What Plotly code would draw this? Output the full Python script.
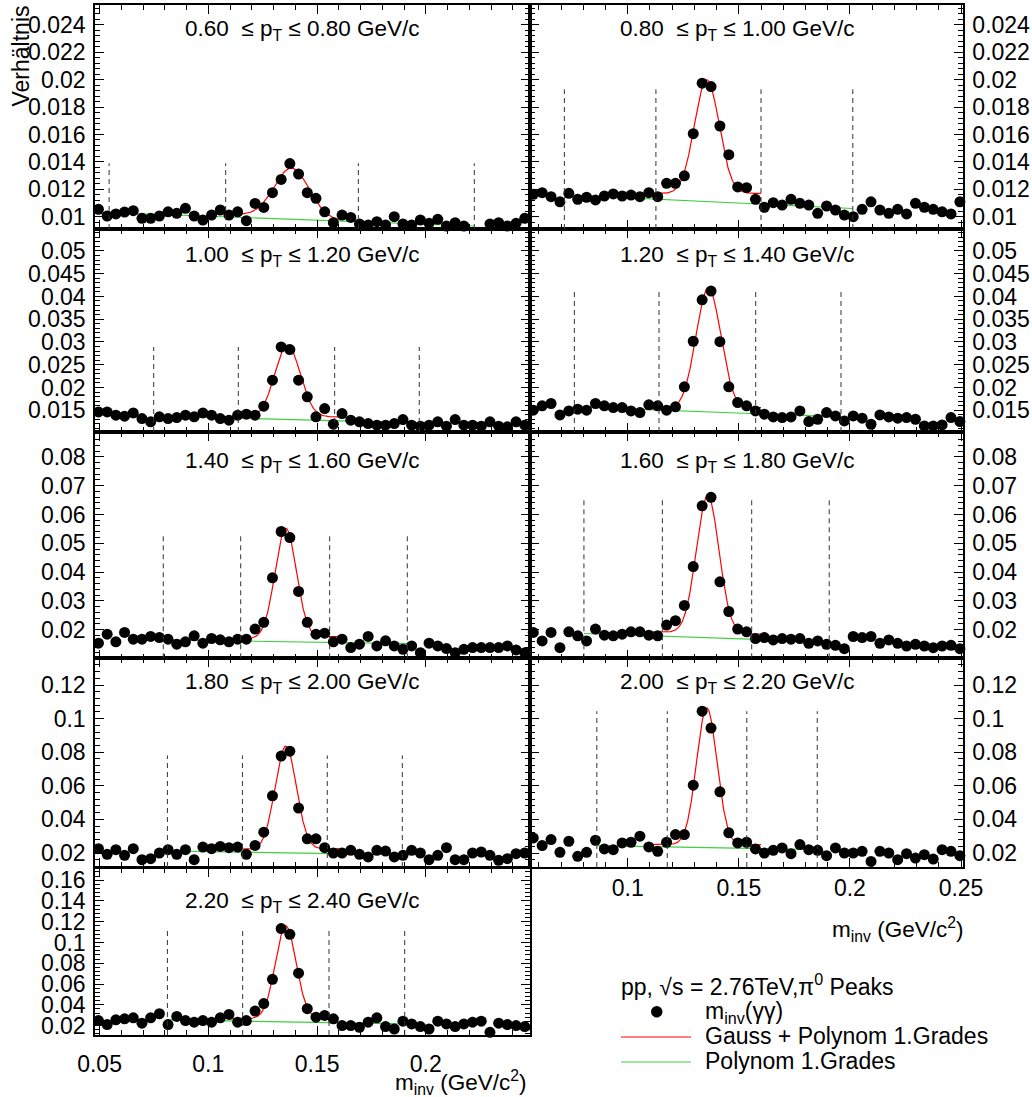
import numpy as np
import plotly.graph_objects as go

W, H = 1032, 1097
FONT = "Liberation Sans, Arial, Helvetica, sans-serif"

# ---------------- data ----------------
# invariant-mass bin centres (GeV/c^2)
m_inv = [0.0495, 0.0535, 0.0575, 0.0615, 0.0655, 0.0695, 0.0735, 0.0775, 0.0815, 0.0855,
         0.0895, 0.0935, 0.0975, 0.1015, 0.1055, 0.1095, 0.1135, 0.1175, 0.1215, 0.1255,
         0.1295, 0.1335, 0.1375, 0.1415, 0.1455, 0.1495, 0.1535, 0.1575, 0.1615, 0.1655,
         0.1695, 0.1735, 0.1775, 0.1815, 0.1855, 0.1895, 0.1935, 0.1975, 0.2015, 0.2055,
         0.2095, 0.2135, 0.2175, 0.2215, 0.2255, 0.2295, 0.2335, 0.2375, 0.2415, 0.2455,
         0.2495]

pt_low = ["0.60", "0.80", "1.00", "1.20", "1.40", "1.60", "1.80", "2.00", "2.20"]
pt_high = ["0.80", "1.00", "1.20", "1.40", "1.60", "1.80", "2.00", "2.20", "2.40"]

ratio_pt1 = [0.01054, 0.01005, 0.0102, 0.01034, 0.01044, 0.00988, 0.00988, 0.01005, 0.01036, 0.01025,
             0.01061, 0.01005, 0.00976, 0.01012, 0.01049, 0.01012, 0.01036, 0.00971, 0.01097, 0.01068,
             0.01175, 0.01272, 0.01388, 0.01311, 0.01175, 0.01134, 0.01036, 0.00956, 0.01012, 0.00995,
             0.00947, 0.0094, 0.00964, 0.0094, 0.0100, 0.00947, 0.0094, 0.00976, 0.00952, 0.00981,
             0.00932, 0.00956, 0.00932, None, None, 0.00947, 0.00956, 0.00932, 0.00952, 0.00988, None]
ratio_pt2 = [None, None, 0.01163, 0.01175, 0.01146, 0.01109, 0.01171, 0.01127, 0.01142, 0.01122,
             0.01151, 0.01166, 0.01151, 0.01158, 0.01146, 0.01175, 0.01146, 0.01244, 0.01244, 0.01298,
             0.01606, 0.01975, 0.0195, 0.01662, 0.01453, 0.01217, 0.01212, 0.01127, 0.01069, 0.01102,
             0.01085, 0.01127, 0.01098, 0.01085, 0.01025, 0.01078, 0.01049, 0.01012, 0.0100, 0.01054,
             0.01109, 0.01049, 0.01025, 0.01054, 0.0102, 0.01098, 0.01069, 0.01054, 0.01036, 0.0102, 0.01109]
ratio_pt3 = [0.01463, 0.01463, 0.0139, 0.01368, 0.01441, 0.01317, 0.01244, 0.01354, 0.01317, 0.01339,
             0.0139, 0.01354, 0.01441, 0.0139, 0.01317, 0.0128, 0.0139, 0.01412, 0.0139, 0.01588,
             0.02159, 0.02891, 0.02833, 0.02159, 0.01793, 0.01354, 0.01537, 0.01192, 0.01427, 0.0128,
             0.01244, 0.01207, 0.01171, 0.01171, 0.01207, 0.01295, 0.01171, 0.01149, 0.01171, 0.01244,
             0.01149, 0.01295, 0.01171, 0.01171, 0.01149, 0.01244, 0.01149, 0.01134, 0.01244, 0.01171, None]
ratio_pt4 = [None, None, 0.015, 0.01596, 0.01647, 0.01397, 0.01485, 0.01522, 0.015, 0.01647,
             0.01596, 0.01559, 0.01559, 0.01485, 0.01449, 0.01618, 0.01596, 0.015, 0.01574, 0.02015,
             0.03015, 0.03926, 0.04118, 0.03007, 0.02015, 0.01669, 0.01596, 0.01485, 0.01412, 0.01353,
             0.01338, 0.01353, 0.01485, 0.0125, 0.01301, 0.01449, 0.01375, 0.01265, 0.01375, 0.01324,
             0.01191, 0.01397, 0.01353, 0.01324, 0.01338, 0.01301, 0.01154, 0.01154, 0.01176, 0.01338, 0.0125]
ratio_pt5 = [0.01533, 0.01848, 0.0158, 0.01907, 0.01673, 0.01673, 0.01767, 0.01732, 0.01673, 0.01498,
             0.0158, 0.0179, 0.01533, 0.01697, 0.0165, 0.0158, 0.01673, 0.01673, 0.02023, 0.02257,
             0.0380, 0.05408, 0.05198, 0.03331, 0.02257, 0.01848, 0.01883, 0.0158, 0.01673, 0.01381,
             0.01498, 0.01767, 0.0144, 0.01615, 0.0144, 0.01323, 0.0144, 0.01206, 0.01533, 0.0144,
             0.01346, 0.01206, 0.01323, 0.01381, 0.01381, 0.01381, 0.01381, 0.0144, 0.013, 0.01206, None]
ratio_pt6 = [None, None, 0.01906, 0.01613, 0.01906, 0.01379, 0.0193, 0.01789, 0.01613, 0.02023,
             0.01812, 0.01789, 0.01848, 0.0193, 0.0193, 0.01812, 0.01789, 0.02164, 0.02316, 0.02844,
             0.04191, 0.06301, 0.06594, 0.03664, 0.02633, 0.02023, 0.0193, 0.01695, 0.0173, 0.01648,
             0.01695, 0.01672, 0.01695, 0.01531, 0.01613, 0.01496, 0.01461, 0.01344, 0.01766, 0.0173,
             0.01766, 0.01531, 0.01648, 0.01531, 0.01437, 0.01496, 0.01437, 0.01379, 0.01437, 0.01461, 0.01344]
ratio_pt7 = [0.02256, 0.01921, 0.02197, 0.01862, 0.02256, 0.01606, 0.01665, 0.02, 0.02197, 0.01921,
             0.02197, 0.01606, 0.02354, 0.02256, 0.02394, 0.02315, 0.02354, 0.01921, 0.02453, 0.0324,
             0.05406, 0.07768, 0.08063, 0.04677, 0.02846, 0.02846, 0.02315, 0.02, 0.02, 0.02157,
             0.01921, 0.01764, 0.02157, 0.02118, 0.01764, 0.01862, 0.02157, 0.02, 0.01606, 0.01862,
             0.02315, 0.01606, 0.01606, 0.02, 0.02059, 0.01862, 0.01567, 0.01665, 0.01961, 0.02, None]
ratio_pt8 = [None, None, 0.029, 0.0244, 0.028, 0.0204, 0.027, 0.018, 0.0204, 0.0276,
             0.0224, 0.022, 0.026, 0.0264, 0.03, 0.0236, 0.021, 0.0264, 0.031, 0.031,
             0.0604, 0.1044, 0.0944, 0.0564, 0.032, 0.026, 0.0264, 0.0224, 0.02, 0.0216,
             0.023, 0.0196, 0.025, 0.022, 0.0216, 0.0184, 0.023, 0.02, 0.02, 0.021,
             0.015, 0.021, 0.02, 0.016, 0.0196, 0.017, 0.019, 0.0164, 0.022, 0.021, 0.0184]
ratio_pt9 = [0.02488, 0.02098, 0.02554, 0.02651, 0.02749, 0.02228, 0.02749, 0.0314, 0.02098, 0.02879,
             0.02488, 0.02326, 0.02488, 0.02326, 0.02749, 0.03075, 0.02326, 0.02488, 0.034, 0.04117,
             0.06461, 0.11345, 0.10792, 0.07047, 0.03628, 0.02814, 0.02977, 0.02651, 0.02, 0.02,
             0.01837, 0.02326, 0.02749, 0.01902, 0.01674, 0.02423, 0.02163, 0.01902, 0.01674, 0.02423,
             0.02163, 0.01902, 0.02163, 0.02326, 0.02423, 0.01349, 0.02228, 0.02098, 0.02, 0.01902, None]
ratios = [ratio_pt1, ratio_pt2, ratio_pt3, ratio_pt4, ratio_pt5,
          ratio_pt6, ratio_pt7, ratio_pt8, ratio_pt9]

# dashed window lines (side-band / peak windows) and their heights
window_pt1 = [0.0544, 0.1080, 0.1690, 0.2223]
window_pt2 = [0.0715, 0.1127, 0.1600, 0.2013]
window_pt3 = [0.0749, 0.1138, 0.1581, 0.1970]
window_pt4 = [0.0760, 0.1141, 0.1576, 0.1960]
window_pt5 = [0.0793, 0.1149, 0.1558, 0.1915]
window_pt6 = [0.0803, 0.1156, 0.1558, 0.1907]
window_pt7 = [0.0812, 0.1157, 0.1547, 0.1892]
window_pt8 = [0.0861, 0.1178, 0.1536, 0.1853]
window_pt9 = [0.0812, 0.1158, 0.1555, 0.1903]
windows = [window_pt1, window_pt2, window_pt3, window_pt4, window_pt5,
           window_pt6, window_pt7, window_pt8, window_pt9]
window_top = [0.0139, 0.0193, 0.0289, 0.0411, 0.0526, 0.0658, 0.0781, 0.1044, 0.1135]

# fit: Gauss + pol1 (fit range 0.11 - 0.16)
fit_range = [0.11, 0.16]
gauss_amp = [0.00363, 0.0083, 0.01583, 0.0265, 0.0380, 0.0476, 0.0614, 0.0814, 0.089]
gauss_mean = [0.1383, 0.1356, 0.1364, 0.1363, 0.1356, 0.1360, 0.1356, 0.1356, 0.1356]
gauss_sigma = [0.0080, 0.00554, 0.0058, 0.00554, 0.0049, 0.0051, 0.0049, 0.0046, 0.00475]
fit_bg_lo = [0.0102, 0.01168, 0.01339, 0.01522, 0.01673, 0.0193, 0.02197, 0.025, 0.02651]
fit_bg_hi = [0.0097, 0.0117, 0.01354, 0.01559, 0.01767, 0.01848, 0.02256, 0.025, 0.02749]
# pol1 background (drawn between outer window lines)
poly_lo = [0.0103, 0.0116, 0.01368, 0.01574, 0.0165, 0.01871, 0.02118, 0.0244, 0.02554]
poly_hi = [0.00932, 0.0106, 0.01222, 0.01353, 0.01521, 0.01578, 0.01902, 0.022, 0.02163]

# ---------------- layout geometry ----------------
col_px = [(95, 530), (530, 963)]
row_px = [(5, 229), (229, 432), (432, 658.3), (658.3, 867), (868, 1035)]
x_ranges = [[0.04791, 0.24791], [0.05603, 0.2509]]
y_ranges = [[0.009102, 0.025453], [0.01021, 0.05482], [0.0101, 0.0886],
            [0.01167, 0.1359], [0.01095, 0.17175]]
y_dtick = [0.002, 0.005, 0.01, 0.02, 0.02]
title_y_px = [27, 253, 459, 680, 899]


def px_x(v):
    return v / W


def px_y(v):
    return 1 - v / H


fig = go.Figure()
layout = dict(width=W, height=H, margin=dict(l=0, r=0, t=0, b=0, pad=0, autoexpand=False),
              paper_bgcolor="white", plot_bgcolor="white", showlegend=False,
              font=dict(family=FONT, color="black"))
shapes = []
annotations = []

for i in range(9):
    row, col = i // 2, i % 2
    n = i + 1
    xs = "" if n == 1 else str(n)
    xr, yr = x_ranges[col], y_ranges[row]
    vals = ratios[i]
    keep = [(m, v) for m, v in zip(m_inv, vals)
            if v is not None and xr[0] <= m <= xr[1] and yr[0] <= v <= yr[1]]
    xv = [m for m, v in keep]
    yv = [v for m, v in keep]

    # pol1 background
    w = windows[i]
    fig.add_trace(go.Scatter(x=[w[0], w[3]], y=[poly_lo[i], poly_hi[i]], mode="lines",
                             line=dict(color="#3fcf3f", width=1.2),
                             xaxis="x" + xs, yaxis="y" + xs, hoverinfo="skip"))
    # gauss + pol1 fit
    xf = np.linspace(fit_range[0], fit_range[1], 300)
    bg = fit_bg_lo[i] + (fit_bg_hi[i] - fit_bg_lo[i]) * (xf - fit_range[0]) / (fit_range[1] - fit_range[0])
    yf = gauss_amp[i] * np.exp(-0.5 * ((xf - gauss_mean[i]) / gauss_sigma[i]) ** 2) + bg
    fig.add_trace(go.Scatter(x=xf, y=yf, mode="lines", line=dict(color="#ff0000", width=1.2),
                             xaxis="x" + xs, yaxis="y" + xs, hoverinfo="skip"))
    # data points
    fig.add_trace(go.Scatter(x=xv, y=yv, mode="markers", cliponaxis=False,
                             marker=dict(color="black", size=11, line=dict(width=0)),
                             xaxis="x" + xs, yaxis="y" + xs))
    # dashed window lines
    for edge in w:
        shapes.append(dict(type="line", xref="x" + xs, yref="y" + xs,
                           x0=edge, x1=edge, y0=yr[0], y1=window_top[i],
                           line=dict(color="#333333", width=1, dash="5px,4px")))

    x0p, x1p = col_px[col]
    y0p, y1p = row_px[row]
    tickfont = dict(family=FONT, size=23, color="black")
    layout["xaxis" + xs] = dict(
        domain=[px_x(x0p), px_x(x1p)], range=xr, anchor="y" + xs, automargin=False,
        showgrid=False, zeroline=False, showline=True, linecolor="black", linewidth=1.5,
        mirror="ticks", ticks="inside", ticklen=9, tickwidth=1.2, tickcolor="black",
        tick0=0, dtick=0.05, tickformat="~g",
        minor=dict(ticks="inside", ticklen=5, tickwidth=1, tickcolor="black", tick0=0, dtick=0.01),
        showticklabels=(n in (8, 9)), tickfont=tickfont,
        ticklabelstandoff=(8 if n == 9 else 0))
    layout["yaxis" + xs] = dict(
        domain=[px_y(y1p), px_y(y0p)], range=yr, anchor="x" + xs, automargin=False,
        side="left" if col == 0 else "right",
        showgrid=False, zeroline=False, showline=True, linecolor="black", linewidth=1.5,
        mirror="ticks", ticks="inside", ticklen=9, tickwidth=1.2, tickcolor="black",
        tick0=0, dtick=y_dtick[row], tickformat="~g",
        minor=dict(ticks="inside", ticklen=5, tickwidth=1, tickcolor="black", tick0=0,
                   dtick=y_dtick[row] / 5),
        showticklabels=True, tickfont=tickfont, ticklabelstandoff=3)

    annotations.append(dict(
        xref="paper", yref="paper", x=px_x(x0p + 88), y=px_y(title_y_px[row] + 3),
        xanchor="left", yanchor="middle", showarrow=False,
        text=f"{pt_low[i]}  \u2264 p<sub>T</sub> \u2264 {pt_high[i]} GeV/c",
        font=dict(family=FONT, size=22.5, color="black")))

# axis titles
annotations.append(dict(xref="paper", yref="paper", x=px_x(20), y=px_y(4),
                        xanchor="center", yanchor="top", textangle=-90, showarrow=False,
                        text="Verh\u00e4ltnis", font=dict(family=FONT, size=23, color="black")))
annotations.append(dict(xref="paper", yref="paper", x=px_x(528), y=px_y(1082),
                        xanchor="right", yanchor="middle", showarrow=False,
                        text="m<sub>inv</sub> (GeV/c<sup>2</sup>)",
                        font=dict(family=FONT, size=22.5, color="black")))
annotations.append(dict(xref="paper", yref="paper", x=px_x(965), y=px_y(929),
                        xanchor="right", yanchor="middle", showarrow=False,
                        text="m<sub>inv</sub> (GeV/c<sup>2</sup>)",
                        font=dict(family=FONT, size=22.5, color="black")))

# legend block
leg_font = dict(family=FONT, size=23, color="black")
annotations.append(dict(xref="paper", yref="paper", x=px_x(619), y=px_y(985),
                        xanchor="left", yanchor="middle", showarrow=False,
                        text="pp, \u221As = 2.76TeV,\u03c0<sup>0</sup> Peaks", font=leg_font))
annotations.append(dict(xref="paper", yref="paper", x=px_x(703), y=px_y(1012),
                        xanchor="left", yanchor="middle", showarrow=False,
                        text="m<sub>inv</sub>(\u03b3\u03b3)", font=leg_font))
annotations.append(dict(xref="paper", yref="paper", x=px_x(703), y=px_y(1036),
                        xanchor="left", yanchor="middle", showarrow=False,
                        text="Gauss + Polynom 1.Grades", font=leg_font))
annotations.append(dict(xref="paper", yref="paper", x=px_x(703), y=px_y(1061),
                        xanchor="left", yanchor="middle", showarrow=False,
                        text="Polynom 1.Grades", font=leg_font))
shapes.append(dict(type="circle", xref="paper", yref="paper",
                   x0=px_x(651), x1=px_x(662.5), y0=px_y(1017.5), y1=px_y(1006),
                   fillcolor="black", line=dict(color="black", width=0)))
shapes.append(dict(type="line", xref="paper", yref="paper",
                   x0=px_x(621), x1=px_x(691), y0=px_y(1037), y1=px_y(1037),
                   line=dict(color="#ff0000", width=1.2)))
shapes.append(dict(type="line", xref="paper", yref="paper",
                   x0=px_x(621), x1=px_x(691), y0=px_y(1062), y1=px_y(1062),
                   line=dict(color="#3fcf3f", width=1.2)))

layout["shapes"] = shapes
layout["annotations"] = annotations
fig.update_layout(**layout)
fig.write_html("out.html")
